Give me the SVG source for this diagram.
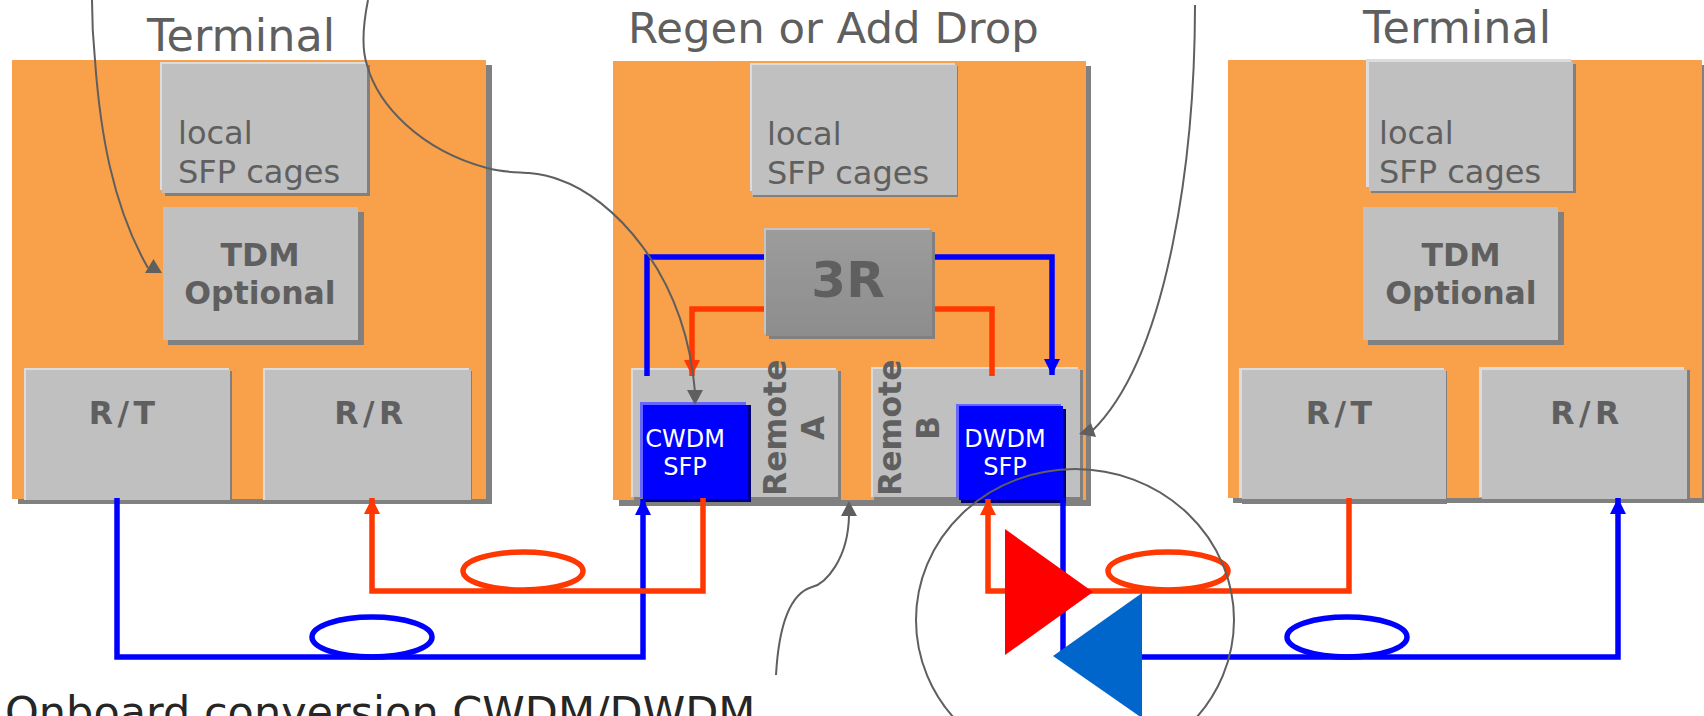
<svg xmlns="http://www.w3.org/2000/svg" width="1704" height="716" viewBox="0 0 1704 716">
<style>
text{font-family:"DejaVu Sans",sans-serif;fill:#5f5f5f}
.t{font-size:43.400px}
.tt{font-size:44.500px}
.s{font-size:32px}
.b{font-weight:bold;font-size:31.500px;text-anchor:middle}
.r{font-weight:bold;font-size:31.500px;text-anchor:middle;letter-spacing:4.500px}
.v{font-weight:bold;font-size:31.500px}
.c{font-weight:bold;font-size:31.500px;text-anchor:middle}
.w{fill:#fff;font-size:24px;text-anchor:middle}
.o{fill:#f9a04b}
.g{fill:#c0c0c0}
.sh{fill:#808080}
.hi{fill:#dcdcdc}
.blue,.red,.ring-b,.ring-r{fill:none;stroke-width:5.500}
.blue,.ring-b{stroke:#0000ff}
.red,.ring-r{stroke:#ff3700}
.gray{fill:none;stroke:#5f5f5f;stroke-width:2}
.ag{fill:#5f5f5f}
</style>
<defs>
<marker id="ab" markerUnits="userSpaceOnUse" markerWidth="16" markerHeight="16" refX="16" refY="8" orient="auto"><path d="M0 0L16 8L0 16Z" fill="#0000ff"/></marker>
<marker id="ar" markerUnits="userSpaceOnUse" markerWidth="16" markerHeight="16" refX="16" refY="8" orient="auto"><path d="M0 0L16 8L0 16Z" fill="#ff3700"/></marker>
<linearGradient id="g3" x1="0" y1="0" x2="0" y2="1"><stop offset="0" stop-color="#9c9c9c"/><stop offset="1" stop-color="#8d8d8d"/></linearGradient>
</defs>
<g id="terminal-left">
<rect class="sh" x="18" y="65" width="474" height="439"/><rect class="o" x="12" y="60" width="474" height="439"/>
<text class="tt" x="147" y="51">Terminal</text>
</g>
<g id="regen">
<rect class="sh" x="619" y="66" width="472" height="440"/><rect class="o" x="613" y="61" width="473" height="439"/>
<text class="t" x="628" y="43">Regen or Add Drop</text>
</g>
<g id="terminal-right">
<rect class="sh" x="1233" y="65" width="471" height="438"/><rect class="o" x="1228" y="60" width="474" height="438"/>
<text class="tt" x="1363" y="43">Terminal</text>
</g>
<g id="local-1"><rect class="sh" x="165" y="65" width="205" height="131"/><rect class="hi" x="160" y="62" width="206" height="128"/><rect class="g" x="162" y="64" width="205" height="129"/><text class="s" x="178" y="144">local</text><text class="s" x="178" y="183">SFP cages</text></g>
<g id="tdm-1"><rect class="sh" x="168" y="212" width="196" height="133"/><rect class="g" x="163" y="207" width="195" height="133"/><text class="b" x="260" y="266">TDM</text><text class="b" x="260" y="304">Optional</text></g>
<g id="rt-1"><rect class="sh" x="27" y="371" width="205" height="133"/><rect class="hi" x="24" y="368" width="205" height="132"/><rect class="g" x="26" y="370" width="204" height="130"/><text class="r" x="124" y="424">R/T</text></g>
<g id="rr-1"><rect class="sh" x="266" y="371" width="206" height="133"/><rect class="hi" x="263" y="368" width="206" height="132"/><rect class="g" x="265" y="370" width="206" height="130"/><text class="r" x="371" y="424">R/R</text></g>
<g id="local-2"><rect class="sh" x="753" y="66" width="205" height="131"/><rect class="hi" x="750" y="63" width="205" height="128"/><rect class="g" x="752" y="65" width="205" height="130"/><text class="s" x="767" y="145">local</text><text class="s" x="767" y="184">SFP cages</text></g>
<g id="regen-3r"><rect class="sh" x="769" y="232" width="166" height="107"/><rect x="764" y="228" width="166" height="106" fill="#c4c4c4"/><rect x="766" y="230" width="166" height="106" fill="url(#g3)"/><text x="848" y="297" font-size="50" font-weight="bold" text-anchor="middle">3R</text></g>
<g id="remote-a"><rect class="sh" x="634" y="371" width="207" height="129"/><rect class="hi" x="631" y="368" width="205" height="129"/><rect class="g" x="633" y="370" width="205" height="127"/><text class="v" transform="translate(786 496) rotate(-90)">Remote</text><text class="c" transform="translate(824 428) rotate(-90)">A</text></g>
<g id="remote-b"><rect class="sh" x="874" y="370" width="209" height="130"/><rect class="hi" x="871" y="367" width="207" height="130"/><rect class="g" x="873" y="369" width="207" height="128"/><text class="v" transform="translate(901 496) rotate(-90)">Remote</text><text class="c" transform="translate(939 428) rotate(-90)">B</text></g>
<g id="cwdm"><rect x="643" y="405" width="108" height="97" fill="#000080"/><rect x="640" y="402" width="106" height="96" fill="#6666ff"/><rect x="643" y="405" width="105" height="94" fill="#0000ff"/><text class="w" x="685" y="447">CWDM</text><text class="w" x="685" y="475">SFP</text></g>
<g id="dwdm"><rect x="961" y="409" width="105" height="94" fill="#000080"/><rect x="956" y="404" width="105" height="94" fill="#6666ff"/><rect x="959" y="406" width="104" height="94" fill="#0000ff"/><text class="w" x="1005" y="447">DWDM</text><text class="w" x="1005" y="475">SFP</text></g>
<g id="local-3"><rect class="sh" x="1371" y="64" width="205" height="129"/><rect class="hi" x="1366" y="59" width="205" height="128"/><rect class="g" x="1369" y="62" width="204" height="129"/><text class="s" x="1379" y="144">local</text><text class="s" x="1379" y="183">SFP cages</text></g>
<g id="tdm-2"><rect class="sh" x="1368" y="212" width="196" height="133"/><rect class="g" x="1363" y="207" width="195" height="133"/><text class="b" x="1461" y="266">TDM</text><text class="b" x="1461" y="304">Optional</text></g>
<g id="rt-2"><rect class="sh" x="1242" y="371" width="205" height="133"/><rect class="hi" x="1239" y="368" width="205" height="130"/><rect class="g" x="1242" y="370" width="204" height="129"/><text class="r" x="1341" y="424">R/T</text></g>
<g id="rr-2"><rect class="sh" x="1484" y="370" width="206" height="132"/><rect class="hi" x="1479" y="367" width="205" height="130"/><rect class="g" x="1482" y="370" width="205" height="129"/><text class="r" x="1587" y="424">R/R</text></g>
<g id="connectors">
<path class="blue" d="M764 257H647V376"/>
<path class="blue" d="M935 257H1052V375" marker-end="url(#ab)"/>
<path class="red" d="M764 309H692V376" marker-end="url(#ar)"/>
<path class="red" d="M935 309H992V376"/>
<path class="blue" d="M117 498V657H643V499" marker-end="url(#ab)"/>
<path class="red" d="M703 498V591H372V498" marker-end="url(#ar)"/>
<ellipse class="ring-b" cx="372" cy="637" rx="60" ry="20"/>
<ellipse class="ring-r" cx="523" cy="571" rx="60" ry="19"/>
<path class="blue" d="M1063 498V660"/>
<path class="blue" d="M1142 657H1618V498" marker-end="url(#ab)"/>
<path class="red" d="M1349 498V591H988V499" marker-end="url(#ar)"/>
<ellipse class="ring-r" cx="1168" cy="571" rx="60" ry="19"/>
<ellipse class="ring-b" cx="1347" cy="637" rx="60" ry="20"/>
<path class="gray" d="M92 0C92 20 93 40 95 60C100 130 112 205 148 268"/>
<polygon class="ag" points="153.500,259 145,273 162,273"/>
<path class="gray" d="M368 0C362 30 362 50 367 65C378 105 420 150 487 168C505 173 520 172 529 173C540 174 550 176 560 180C610 197 685 270 695 392"/>
<polygon class="ag" points="687,390 703,390 695,405"/>
<path class="gray" d="M1195 5C1195 150 1170 355 1092 431"/>
<polygon class="ag" points="1079,434 1091,423 1096,437"/>
<path class="gray" d="M776 675C778 640 785 595 812 587C825 584 848 560 849 516"/>
<polygon class="ag" points="849,501 841,516 857,516"/>
<ellipse class="gray" cx="1075" cy="620" rx="159" ry="151"/>
</g>
<g id="amp-red"><polygon points="1005,529 1005,655 1093,592" fill="#ff0000"/></g>
<g id="amp-blue"><polygon points="1142,593 1142,718 1053,656" fill="#0066cc"/></g>
<text x="5" y="727" font-size="43" style="fill:#262626">Onboard conversion CWDM/DWDM</text>
</svg>
